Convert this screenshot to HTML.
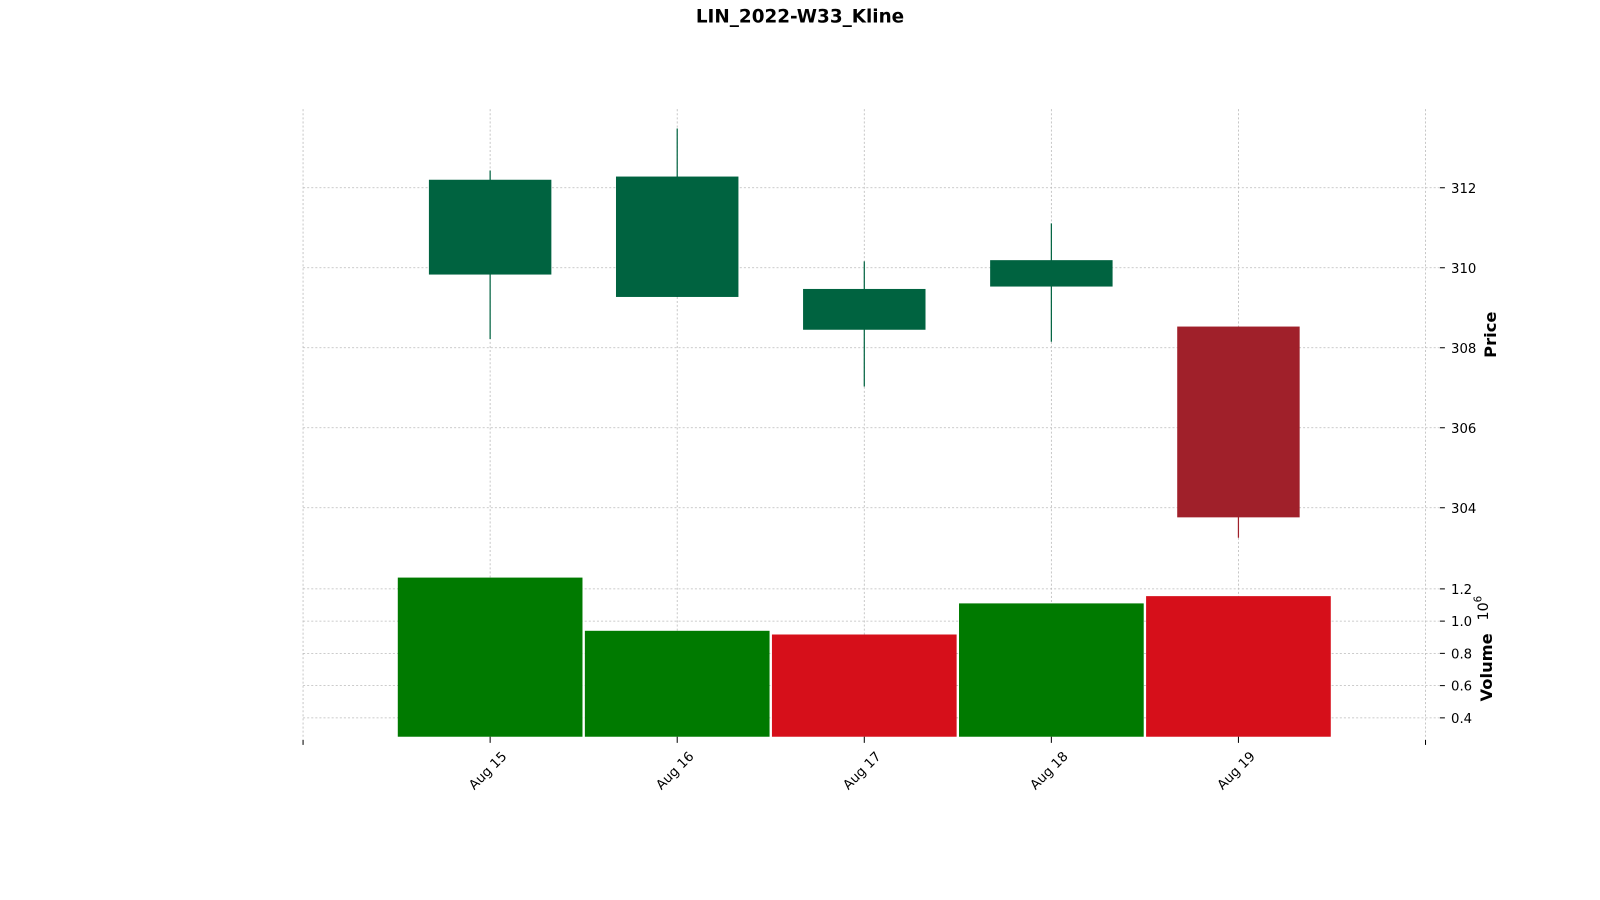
<!DOCTYPE html>
<html><head><meta charset="utf-8"><style>
body{margin:0;background:#fff;}
svg{display:block;font-family:"DejaVu Sans","Liberation Sans",sans-serif;}
</style></head><body>
<svg id="chart" width="1600" height="900" viewBox="0 0 1568 882">
<text x="784" y="22" text-anchor="middle" font-size="18" font-weight="bold">LIN_2022-W33_Kline</text>
<g id="grid"></g><g id="marks"></g><g id="axes"></g>
</svg>
<script>
const dates=["Aug 15","Aug 16","Aug 17","Aug 18","Aug 19"];
const opens=[309.83,309.27,308.45,309.53,308.53];
const highs=[312.43,313.48,310.16,311.11,308.53];
const lows=[308.22,309.27,307.03,308.15,303.25];
const closes=[312.2,312.28,309.47,310.19,303.76];
const volumes=[1.27,0.94,0.917,1.11,1.155];
const priceTicks=[304,306,308,310,312];
const volTicks=[0.4,0.6,0.8,1.0,1.2];
const NS="http://www.w3.org/2000/svg";
const X0=297,X1=1397,GX=1410;
const xs=i=>X0+(i+1)*(X1-X0)/6;
const yp=p=>184+(312-p)*39.2;
const yv=v=>703.5-(v-0.4)*158;
const g=document.getElementById('grid'),m=document.getElementById('marks'),a=document.getElementById('axes');
function el(t,at,p){const e=document.createElementNS(NS,t);for(const k in at)e.setAttribute(k,at[k]);p.appendChild(e);return e;}
dates.forEach((d,i)=>{
 const l=el('line',{x1:xs(i),x2:xs(i),y1:107,y2:545,stroke:'#bbb','stroke-dasharray':'2,2','stroke-width':0.8},g);
 
 
 const l2=el('line',{x1:xs(i),x2:xs(i),y1:548,y2:722,stroke:'#bbb','stroke-dasharray':'2,2','stroke-width':0.8},g);
 
 
 const t=el('text',{x:0,y:0,'font-size':13,'text-anchor':'end',transform:`translate(${xs(i)+17},${742}) rotate(-45)`},a);
 t.textContent=d;
 
 
 el('line',{x1:xs(i),x2:xs(i),y1:722,y2:728,stroke:'#000'},a);
});
[X0,X1].forEach(x=>{
 [[107,545],[548,722]].forEach(r=>el('line',{x1:x,x2:x,y1:r[0],y2:r[1],stroke:'#bbb','stroke-dasharray':'2,2','stroke-width':0.8},g));
 el('line',{x1:x,x2:x,y1:725,y2:730,stroke:'#000'},a);
});
priceTicks.forEach(p=>{
 const l=el('line',{x1:X0,x2:GX,y1:yp(p),y2:yp(p),stroke:'#bbb','stroke-dasharray':'2,2','stroke-width':0.8},g);
 
 
 el('line',{x1:GX+1,x2:GX+6,y1:yp(p),y2:yp(p),stroke:'#000'},a);
 const t=el('text',{x:1422,y:yp(p)+5,'font-size':13},a);
 t.textContent=p;
 
 
});
volTicks.forEach(v=>{
 const l=el('line',{x1:X0,x2:GX,y1:yv(v),y2:yv(v),stroke:'#bbb','stroke-dasharray':'2,2','stroke-width':0.8},g);
 
 
 el('line',{x1:GX+1,x2:GX+6,y1:yv(v),y2:yv(v),stroke:'#000'},a);
 const t=el('text',{x:1422,y:yv(v)+5,'font-size':13},a);
 t.textContent=v.toFixed(1);
 
 
});
dates.forEach((d,i)=>{
 const up=closes[i]>=opens[i];
 const c=up?'#006340':'#a0202a';
 const w=el('line',{x1:xs(i),x2:xs(i),y1:yp(highs[i]),y2:yp(lows[i]),stroke:c,'stroke-width':1.2},m);
 
 
 const top=Math.max(opens[i],closes[i]),bot=Math.min(opens[i],closes[i]);
 const b=el('rect',{x:xs(i)-60,y:yp(top),width:120,height:yp(bot)-yp(top),fill:c},m);
 
 
 const vup=i===0?up:closes[i]>=closes[i-1];
 const vb=el('rect',{x:xs(i)-90.5,y:yv(volumes[i]),width:181,height:722-yv(volumes[i]),fill:vup?'#007a00':'#d60f1a'},m);
 
 
});
const s=document.getElementById('chart');
function lbl(txt,x,y,name,size,bold){const t=document.createElementNS(NS,'text');t.setAttribute('transform',`translate(${x},${y}) rotate(-90)`);t.setAttribute('text-anchor','middle');t.setAttribute('font-size',size);if(bold)t.setAttribute('font-weight','bold');t.textContent=txt;


s.appendChild(t);}
lbl('Price',1466,328,'price-axis-title',16,true);
lbl('Volume',1462,654,'volume-axis-title',16,true);
const e=document.createElementNS(NS,'text');e.setAttribute('transform','translate(1458,596) rotate(-90)');e.setAttribute('text-anchor','middle');e.setAttribute('font-size',14);
e.innerHTML='10<tspan dy="-6" font-size="10">6</tspan>';


s.appendChild(e);
</script>
</body></html>
